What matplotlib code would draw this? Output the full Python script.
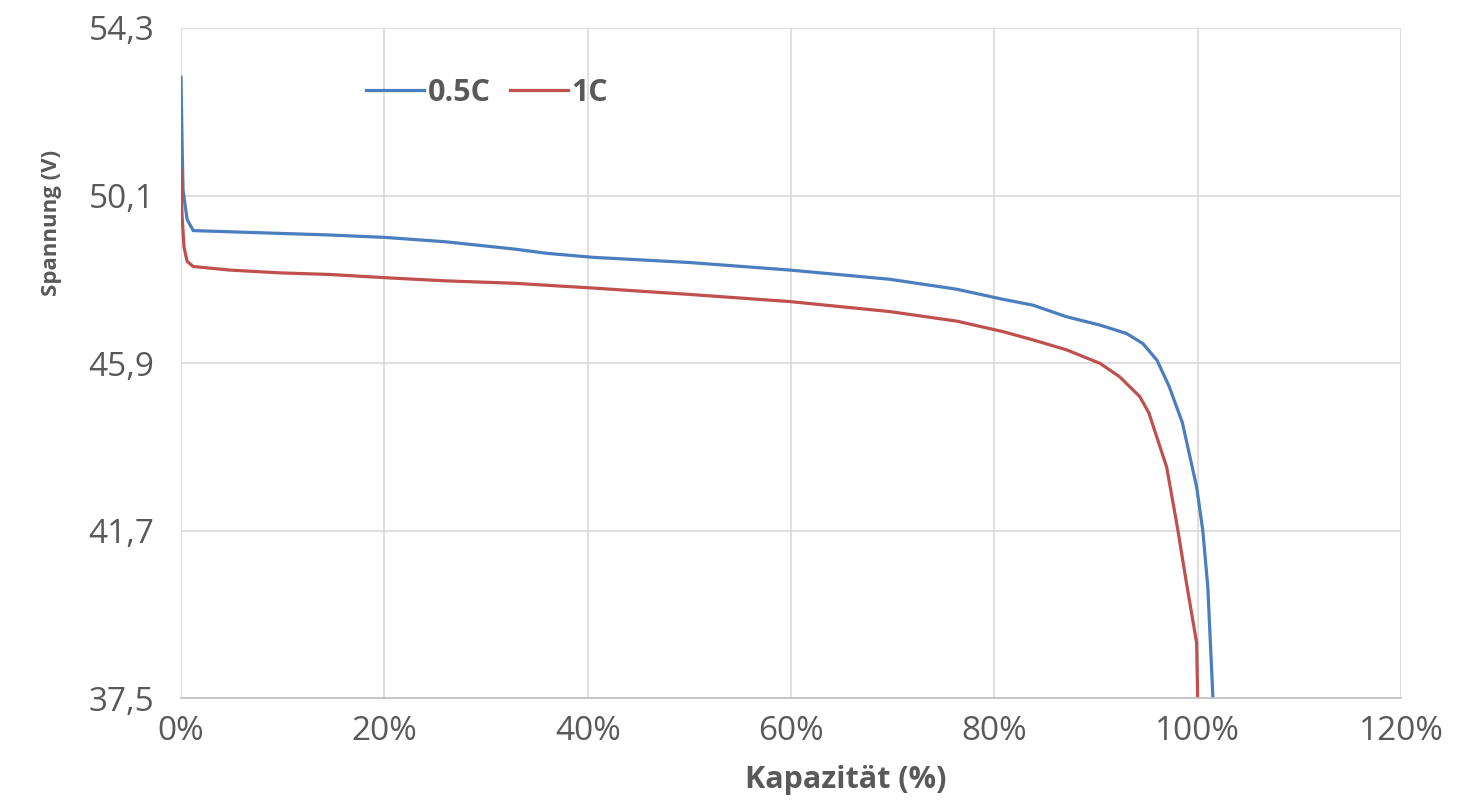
import numpy as np
import matplotlib
matplotlib.use('Agg')
import matplotlib.pyplot as plt
from matplotlib.ticker import FixedLocator, FuncFormatter

# Kapazität (%) / Spannung (V)
cap_05 = [0, 0.1, 0.2, 0.6, 1.2, 4.8, 9.7, 14.6, 20, 26, 32.7, 36, 40.5, 50, 59.9, 69.7,
          76.3, 80.8, 83.8, 87.1, 90.4, 93, 94.6, 96, 97.2, 98.5, 99.9, 100.5, 101.0, 101.5]
v_05 = [53.07, 51.5, 50.24, 49.5, 49.22, 49.19, 49.15, 49.11, 49.05, 48.94, 48.76, 48.65,
        48.55, 48.42, 48.23, 48.0, 47.75, 47.5, 47.35, 47.06, 46.85, 46.64, 46.39, 45.97,
        45.31, 44.4, 42.79, 41.71, 40.28, 37.5]

cap_1 = [0, 0.1, 0.3, 0.6, 1.2, 4.8, 9.7, 14.6, 20, 26, 32.7, 40.5, 50, 59.9, 69.7, 76.3,
         80.8, 83.8, 87.1, 90.4, 92.3, 94.3, 95.2, 96.95, 98.0, 98.9, 99.9, 100.0]
v_1 = [50.75, 49.6, 48.8, 48.45, 48.32, 48.23, 48.16, 48.12, 48.04, 47.96, 47.9, 47.78,
       47.62, 47.44, 47.19, 46.95, 46.69, 46.48, 46.23, 45.89, 45.56, 45.06, 44.65, 43.29,
       41.79, 40.38, 38.88, 37.5]

y_ticks = [37.5, 41.7, 45.9, 50.1, 54.3]
x_ticks = [0, 20, 40, 60, 80, 100, 120]

plt.rcParams['font.family'] = ['Open Sans', 'DejaVu Sans']
text_col = '#595959'

fig = plt.figure(figsize=(14.83, 8.08), dpi=100)
ax = fig.add_axes([181/1483, 1 - 698/808, 1220/1483, 670/808])

ax.plot(cap_05, v_05, color='#4a7ebf', lw=2.3, label='0.5C', solid_joinstyle='round')
ax.plot(cap_1, v_1, color='#c0504d', lw=2.3, label='1C', solid_joinstyle='round')

ax.set_xlim(0, 120)
ax.set_ylim(37.5, 54.3)
ax.xaxis.set_major_locator(FixedLocator(x_ticks))
ax.yaxis.set_major_locator(FixedLocator(y_ticks))
ax.xaxis.set_major_formatter(FuncFormatter(lambda v, p: f"{int(round(v))}%"))
ax.yaxis.set_major_formatter(FuncFormatter(lambda v, p: f"{v:.1f}".replace('.', ',')))

ax.grid(True, color='#d9d9d9', lw=1.2, zorder=0)
ax.set_axisbelow(True)
for s in ['top', 'right', 'left']:
    ax.spines[s].set_visible(False)
ax.spines['bottom'].set_color('#bfbfbf')
ax.spines['bottom'].set_linewidth(1.2)

ax.tick_params(axis='both', length=0, labelsize=24, labelcolor=text_col)
ax.tick_params(axis='x', pad=12)
ax.tick_params(axis='y', pad=19)

ax.set_xlabel('Kapazität (%)', fontsize=22, fontweight='bold', color=text_col)
ax.set_ylabel('Spannung (V)', fontsize=16, fontweight='bold', color=text_col)
ax.xaxis.set_label_coords(0.545, -0.10)
ax.yaxis.set_label_coords(-0.0975, 0.709)

leg = ax.legend(loc='center left', bbox_to_anchor=(0.152, 0.903), ncol=2, frameon=False,
                borderpad=0, borderaxespad=0, handlelength=1.9, handletextpad=0.1,
                columnspacing=0.65, prop={'size': 22, 'weight': 'bold'})
for t in leg.get_texts():
    t.set_color(text_col)

fig.savefig('out.png', dpi=100)
